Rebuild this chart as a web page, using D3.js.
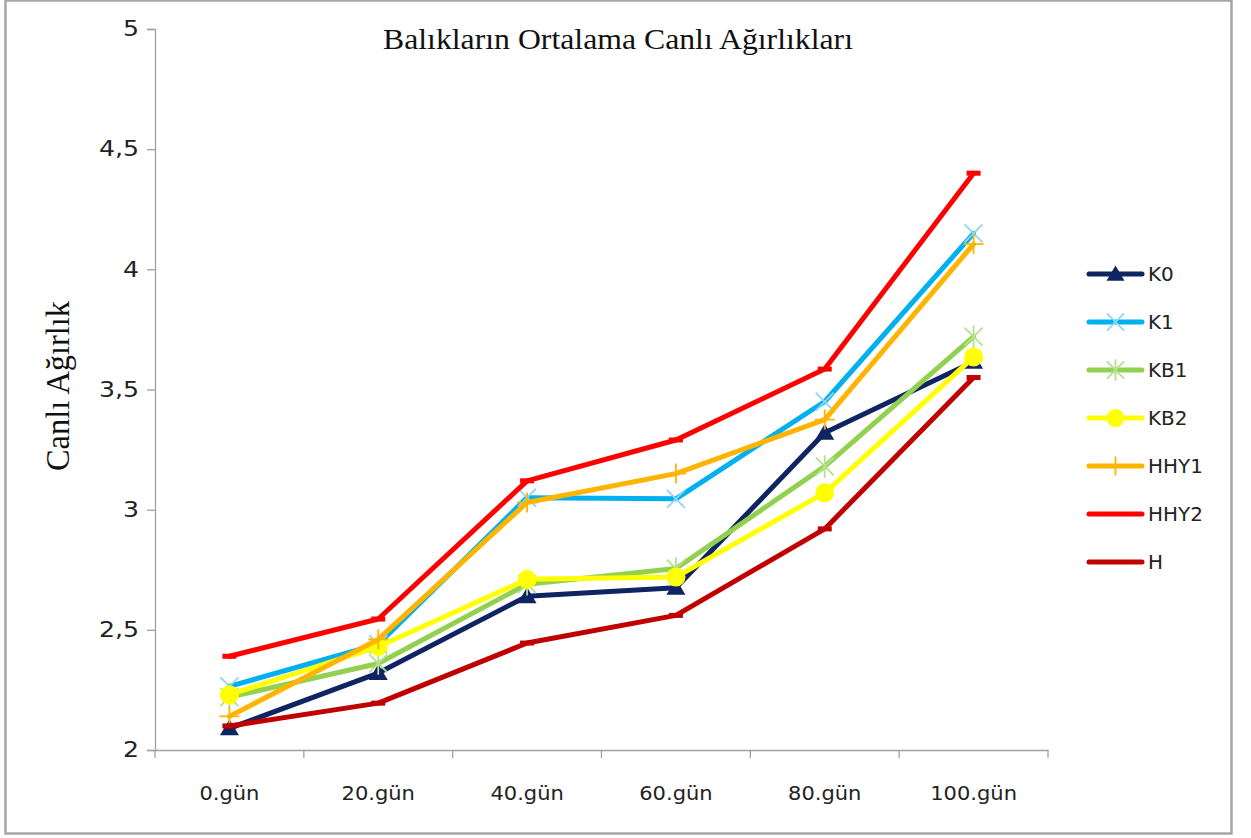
<!DOCTYPE html>
<html>
<head>
<meta charset="utf-8">
<script src="https://cdn.jsdelivr.net/npm/d3@7"></script>
<style>
  html, body { margin: 0; padding: 0; background: #fff; }
  svg { display: block; }
</style>
</head>
<body>
<svg id="chart" width="1251" height="838"></svg>
<script>
// Days of measurement
const categories = ["0.gün", "20.gün", "40.gün", "60.gün", "80.gün", "100.gün"];
const yTicks = [2, 2.5, 3, 3.5, 4, 4.5, 5];

// Mean live weight per group
const K0   = [2.09, 2.32, 2.64, 2.675, 3.32, 3.615];
const K1   = [2.265, 2.44, 3.05, 3.045, 3.45, 4.15];
const KB1  = [2.22, 2.36, 2.69, 2.755, 3.18, 3.72];
const KB2  = [2.23, 2.43, 2.71, 2.72, 3.07, 3.635];
const HHY1 = [2.14, 2.46, 3.03, 3.15, 3.375, 4.105];
const HHY2 = [2.39, 2.545, 3.12, 3.29, 3.585, 4.40];
const H    = [2.10, 2.195, 2.445, 2.56, 2.92, 3.55];

const seriesNames = ["K0", "K1", "KB1", "KB2", "HHY1", "HHY2", "H"];
const seriesValues = [K0, K1, KB1, KB2, HHY1, HHY2, H];

const styles = {
  K0:   { color: "#0f2463", marker: "triangle", mcolor: "#0f2463" },
  K1:   { color: "#00b0f0", marker: "x",        mcolor: "#8fd6f5" },
  KB1:  { color: "#92d050", marker: "star",     mcolor: "#b5e08f" },
  KB2:  { color: "#ffff00", marker: "circle",   mcolor: "#ffff00" },
  HHY1: { color: "#ffb400", marker: "plus",     mcolor: "#ffb400" },
  HHY2: { color: "#ff0000", marker: "dash",     mcolor: "#ff0000" },
  H:    { color: "#c00000", marker: "dash",     mcolor: "#c00000" }
};

const sansFont = "'DejaVu Sans', Verdana, sans-serif";
const serifFont = "'Liberation Serif', 'Times New Roman', serif";

// Widen glyphs horizontally by a factor
function widen(sel, factor) {
  sel.each(function () {
    const w = this.getComputedTextLength();
    d3.select(this).attr("textLength", w * factor).attr("lengthAdjust", "spacingAndGlyphs");
  });
}

const svg = d3.select("#chart");

// Outer chart frame
svg.append("rect")
  .attr("x", 5.5).attr("y", 0.5)
  .attr("width", 1226).attr("height", 833)
  .attr("fill", "#fff")
  .attr("stroke", "#a6a6a6").attr("stroke-width", 2.5);

const plot = { left: 155, right: 1048, top: 29, bottom: 750 };

const x = d3.scaleBand().domain(categories).range([plot.left, plot.right]);
const y = d3.scaleLinear().domain([2, 5]).range([plot.bottom, plot.top]);

// Y axis
const yAxis = svg.append("g")
  .attr("transform", `translate(${plot.left},0)`)
  .call(d3.axisLeft(y).tickValues(yTicks).tickSize(8).tickPadding(8)
    .tickFormat(d => String(d).replace(".", ",")));
yAxis.select(".domain").attr("stroke", "#a0a0a0").attr("stroke-width", 1.3);
yAxis.selectAll(".tick line").attr("stroke", "#a0a0a0").attr("stroke-width", 1.3);
yAxis.selectAll(".tick text")
  .attr("font-family", sansFont)
  .attr("font-size", 21).attr("fill", "#222")
  .call(widen, 1.2);

// X axis
const xAxis = svg.append("g")
  .attr("transform", `translate(0,${plot.bottom})`)
  .call(d3.axisBottom(x).tickSize(0).tickPadding(36));
xAxis.select(".domain").attr("stroke", "#a0a0a0").attr("stroke-width", 1.3);
xAxis.selectAll(".tick text")
  .attr("font-family", sansFont)
  .attr("font-size", 20).attr("fill", "#222")
  .call(widen, 1.05);
// Category separators
svg.append("g").selectAll("line")
  .data(d3.range(categories.length + 1))
  .join("line")
  .attr("x1", i => plot.left + i * x.bandwidth())
  .attr("x2", i => plot.left + i * x.bandwidth())
  .attr("y1", plot.bottom).attr("y2", plot.bottom + 8)
  .attr("stroke", "#a0a0a0").attr("stroke-width", 1.3);

const cx = c => x(c) + x.bandwidth() / 2;

// Marker drawing
function drawMarker(g, type, color, px, py, scale = 1) {
  const s = scale;
  if (type === "triangle") {
    g.append("path")
      .attr("d", `M${px},${py - 9 * s} L${px + 9.5 * s},${py + 7 * s} L${px - 9.5 * s},${py + 7 * s} Z`)
      .attr("fill", color);
  } else if (type === "circle") {
    g.append("circle").attr("cx", px).attr("cy", py).attr("r", 9.5 * s).attr("fill", color);
  } else if (type === "x") {
    const r = 9 * s;
    g.append("path")
      .attr("d", `M${px - r},${py - r} L${px + r},${py + r} M${px - r},${py + r} L${px + r},${py - r}`)
      .attr("stroke", color).attr("stroke-width", 1.8).attr("fill", "none");
  } else if (type === "star") {
    const r = 9 * s;
    g.append("path")
      .attr("d", `M${px - r},${py - r} L${px + r},${py + r} M${px - r},${py + r} L${px + r},${py - r} M${px},${py - r * 1.25} L${px},${py + r * 1.25}`)
      .attr("stroke", color).attr("stroke-width", 1.8).attr("fill", "none");
  } else if (type === "plus") {
    const r = 10 * s;
    g.append("path")
      .attr("d", `M${px - r},${py} L${px + r},${py} M${px},${py - r} L${px},${py + r}`)
      .attr("stroke", color).attr("stroke-width", 1.8).attr("fill", "none");
  } else if (type === "dash") {
    g.append("rect")
      .attr("x", px - 7 * s).attr("y", py - 2.5 * s)
      .attr("width", 14 * s).attr("height", 5 * s)
      .attr("fill", color);
  }
}

const line = d3.line().x((d, i) => cx(categories[i])).y(d => y(d));

// Series drawn in order, so later groups sit above earlier ones
seriesNames.forEach((name, si) => {
  const st = styles[name];
  const vals = seriesValues[si];
  const g = svg.append("g");
  g.append("path")
    .attr("d", line(vals))
    .attr("fill", "none")
    .attr("stroke", st.color)
    .attr("stroke-width", 5)
    .attr("stroke-linejoin", "round")
    .attr("stroke-linecap", "round");
  vals.forEach((v, i) => drawMarker(g, st.marker, st.mcolor, cx(categories[i]), y(v)));
});

// Title
svg.append("text")
  .attr("x", 618).attr("y", 49)
  .attr("text-anchor", "middle")
  .attr("font-family", serifFont)
  .attr("font-size", 29)
  .attr("fill", "#111")
  .attr("textLength", 470).attr("lengthAdjust", "spacingAndGlyphs")
  .text("Balıkların Ortalama Canlı Ağırlıkları");

// Y axis title
svg.append("text")
  .attr("transform", "translate(69,386) rotate(-90)")
  .attr("text-anchor", "middle")
  .attr("font-family", serifFont)
  .attr("font-size", 33)
  .attr("fill", "#111")
  .attr("textLength", 170).attr("lengthAdjust", "spacingAndGlyphs")
  .text("Canlı Ağırlık");

// Legend
const legend = svg.append("g");
seriesNames.forEach((name, i) => {
  const st = styles[name];
  const ly = 274 + i * 48;
  const gi = legend.append("g");
  gi.append("line")
    .attr("x1", 1089).attr("x2", 1142)
    .attr("y1", ly).attr("y2", ly)
    .attr("stroke", st.color).attr("stroke-width", 5)
    .attr("stroke-linecap", "round");
  if (st.marker !== "dash") drawMarker(gi, st.marker, st.mcolor, 1115.5, ly, 0.95);
  gi.append("text")
    .attr("x", 1148).attr("y", ly + 7)
    .attr("font-family", sansFont)
    .attr("font-size", 19).attr("fill", "#222")
    .text(name)
    .call(widen, 1.05);
});
</script>
</body>
</html>
